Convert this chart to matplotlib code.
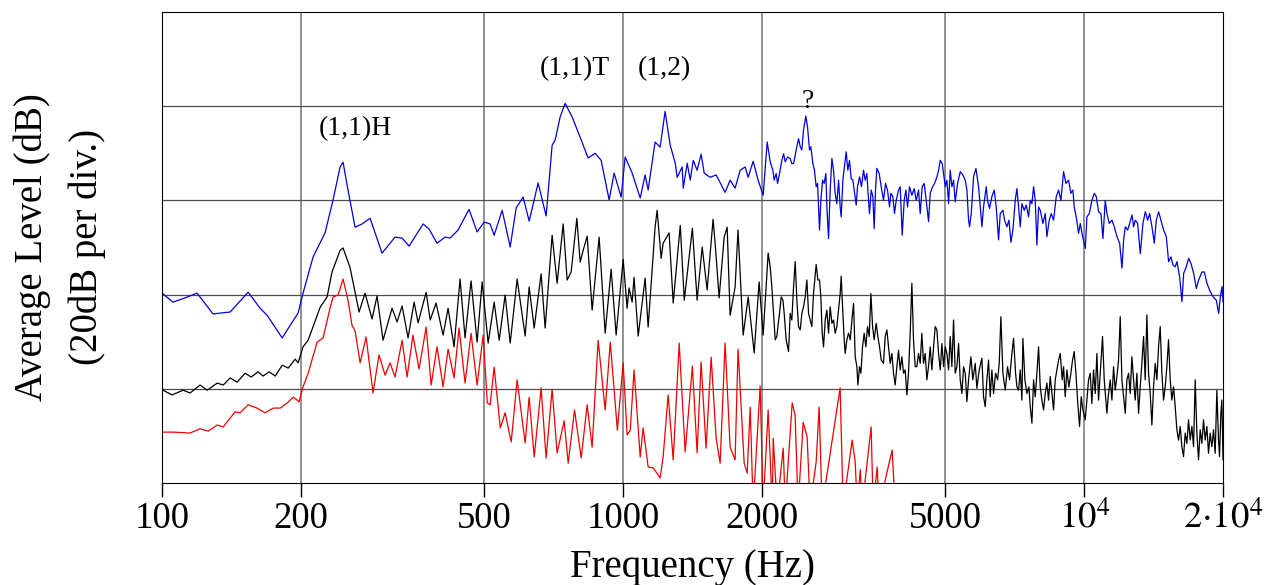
import numpy as np
import matplotlib
matplotlib.use("Agg")
import matplotlib.pyplot as plt

plt.rcParams['font.family'] = ['Liberation Serif', 'DejaVu Serif']
plt.rcParams['mathtext.fontset'] = 'stix'

# (frequency Hz, level dB), 20 dB per division
blue_pts = [
    (100, 40.3), (105.6, 38.4), (112.2, 39.3), (119.1, 40.3), (129.0, 35.9), (140.5, 36.3),
    (153.7, 40.5), (163.2, 37.1), (169.0, 35.6), (182.2, 30.8), (197.3, 36.1), (202.2, 40.3),
    (212.6, 48.0), (225.7, 53.1), (234.9, 60.1), (243.3, 67.1), (246.9, 68.1), (253.1, 62.2),
    (262.2, 54.3), (271.5, 55.0), (282.6, 56.2), (300, 48.8), (320.1, 52.2), (331.6, 52.0),
    (343.4, 50.3), (368.3, 55.0), (379.5, 53.9), (394.8, 50.9), (410.9, 52.2), (421.4, 52.0),
    (438.5, 53.7), (463.2, 58.1), (482.3, 53.3), (499.5, 55.4), (514.7, 55.0), (525.1, 52.6),
    (546.5, 57.9), (568.9, 50.1), (586.1, 58.4), (606.9, 60.7), (625.4, 55.6), (654.0, 63.7),
    (680.7, 56.7), (701.4, 71.7), (712.0, 72.8), (730.0, 77.7), (748.5, 80.6), (775.2, 77.7),
    (806.8, 73.4), (839.6, 69.0), (869.5, 70.0), (896.0, 68.5), (932.4, 60.1), (956.0, 65.8),
    (990.0, 60.7), (1010, 69.2), (1046, 65.8), (1089, 60.5), (1116, 65.4), (1133, 62.2),
    (1173, 72.4), (1203, 71.3), (1233, 78.9), (1265, 71.7), (1297, 67.9), (1310, 64.9),
    (1343, 67.1), (1350, 62.6), (1377, 67.9), (1398, 64.3), (1419, 68.5), (1447, 66.4),
    (1476, 69.8), (1499, 65.8), (1544, 64.9), (1591, 65.4), (1664, 61.7), (1706, 64.3),
    (1749, 62.6), (1794, 66.4), (1839, 67.1), (1867, 64.9), (1914, 68.3), (1962, 64.3),
    (2012, 61.1), (2053, 72.4),
    (2084, 68.2), (2112, 66.4), (2126, 64.3), (2147, 65.7), (2162, 63.6), (2183, 65.7),
    (2209, 68.5), (2228, 69.9), (2246, 68.2), (2273, 69.2), (2303, 68.9), (2322, 67.8),
    (2342, 67.8), (2373, 70.7), (2401, 73.1), (2421, 71.4), (2441, 70.7), (2461, 74.9),
    (2490, 77.9), (2511, 75.6), (2536, 70.7), (2553, 71.4), (2579, 67.8), (2600, 66.4),
    (2622, 62.9), (2640, 63.6), (2666, 53.7), (2684, 60.0), (2707, 64.3), (2729, 63.6),
    (2752, 65.7), (2766, 58.6), (2789, 51.9), (2812, 62.2), (2836, 68.9), (2859, 66.4),
    (2883, 61.5), (2907, 59.3), (2932, 64.3), (2956, 58.6), (2971, 56.5), (2996, 64.3),
    (3026, 67.8), (3046, 70.3), (3071, 66.4), (3097, 68.5), (3123, 64.6), (3149, 64.3),
    (3170, 62.2), (3202, 59.0), (3223, 62.9), (3256, 65.0), (3288, 62.9), (3321, 66.4),
    (3349, 64.3), (3377, 65.7), (3405, 60.0), (3422, 57.2), (3451, 62.2), (3480, 60.8),
    (3503, 54.0), (3526, 62.2), (3550, 66.8), (3592, 65.7), (3628, 62.9), (3670, 60.0),
    (3707, 63.6), (3744, 62.2), (3782, 58.6), (3807, 61.5), (3845, 60.8), (3877, 57.2),
    (3910, 60.0), (3956, 62.2), (3989, 62.9), (4029, 52.6), (4070, 60.0), (4104, 62.2),
    (4138, 58.6), (4179, 62.9), (4228, 61.1), (4278, 62.5), (4321, 60.0), (4372, 62.2),
    (4408, 57.2), (4452, 62.9), (4497, 63.6), (4542, 60.0), (4596, 55.5), (4634, 61.5),
    (4689, 62.9), (4736, 63.6), (4792, 65.0), (4832, 66.4), (4872, 68.5), (4921, 67.8),
    (4954, 65.7), (4996, 62.9), (5037, 64.3), (5079, 59.3),
    (5121, 66.4), (5164, 62.9), (5207, 64.3), (5250, 59.7), (5312, 63.6), (5384, 66.1),
    (5455, 65.4), (5519, 64.3), (5566, 62.2), (5612, 55.8), (5640, 54.4), (5688, 57.2),
    (5754, 65.0), (5822, 66.8), (5900, 62.9), (5950, 58.6), (5999, 54.4), (6048, 58.6),
    (6129, 62.9), (6170, 60.0), (6232, 58.3), (6305, 60.8), (6379, 62.2), (6443, 58.6),
    (6519, 51.6), (6574, 57.2), (6662, 57.9), (6718, 55.8), (6796, 54.4), (6865, 55.8),
    (6934, 51.1), (7003, 53.7), (7085, 60.0), (7144, 62.5), (7204, 58.6), (7264, 54.4),
    (7325, 59.3), (7411, 57.9), (7485, 59.0), (7573, 56.5), (7636, 60.0), (7700, 59.3),
    (7765, 62.9), (7830, 60.0), (7895, 50.5), (7961, 58.6), (8028, 57.9), (8135, 55.1),
    (8230, 57.2), (8299, 52.3), (8396, 55.8), (8481, 57.2), (8580, 55.8), (8695, 60.8),
    (8797, 62.2), (8900, 60.0), (9019, 66.1), (9125, 63.6), (9247, 64.3), (9355, 61.5),
    (9449, 62.2), (9512, 58.6), (9608, 56.5), (9721, 53.0), (9802, 55.1), (9919, 52.3),
    (10051, 49.8), (10135, 56.5), (10254, 57.2), (10391, 60.0), (10513, 61.5), (10619, 60.8),
    (10743, 57.6), (10869, 57.2), (10978, 51.9), (11107, 60.0), (11200, 57.2), (11332, 55.1),
    (11483, 55.8), (11618, 54.4), (11775, 52.3), (11933, 50.9), (12073, 45.6), (12174, 51.6),
    (12276, 54.4), (12420, 53.7), (12544, 55.1), (12691, 56.9), (12797, 54.4), (12904, 55.8),
    (13055, 55.1), (13230, 48.7), (13407, 55.1), (13564, 57.6), (13723, 55.8), (13861, 57.2),
    (14023, 54.4), (14187, 50.9), (14330, 55.8), (14498, 57.6), (14668, 55.8), (14864, 53.7),
    (15064, 52.3), (15240, 47.0), (15419, 48.0), (15573, 46.3), (15756, 45.9), (15888, 47.0),
    (16101, 43.8), (16289, 38.5), (16429, 44.5), (16648, 45.9), (16844, 47.7), (17041, 46.6),
    (17270, 44.5), (17501, 41.3), (17706, 43.1), (18004, 44.8), (18215, 44.8), (18458, 42.4),
    (18706, 40.9), (18925, 39.9), (19147, 39.2), (19339, 38.8), (19566, 36.0), (19729, 39.5),
    (19894, 41.7), (20000, 38.5),
]

black_pts = [
    (100.5, 19.7), (105.1, 18.7), (111.1, 19.7), (115.0, 19.1), (120.9, 20.8), (125.3, 19.7),
    (131.7, 21.2), (135.7, 20.8), (140.5, 22.3), (145.5, 21.4), (151.4, 23.3), (156.0, 22.5),
    (161.5, 23.6), (165.6, 22.7), (170.7, 23.6), (176.0, 22.7), (182.2, 25.0), (187.8, 24.4),
    (194.5, 26.3), (197.3, 25.5), (202.2, 28.9), (207.4, 30.3), (220.2, 37.3), (228.0, 39.5),
    (233.7, 44.8), (243.3, 49.4), (246.9, 49.9), (255.6, 45.8), (267.5, 36.3), (275.6, 40.3),
    (285.4, 34.8), (292.6, 39.7), (301.5, 30.3), (315.4, 37.1), (323.4, 34.2), (331.6, 37.6),
    (341.6, 30.8), (352.1, 38.4), (359.2, 34.0), (373.9, 40.5), (381.5, 34.6), (392.9, 38.2),
    (406.9, 31.4), (417.2, 37.1), (429.8, 28.9), (442.9, 43.3), (454.1, 30.8), (467.9, 42.9),
    (482.3, 29.9), (494.5, 42.7), (509.6, 29.7), (525.1, 38.4), (538.5, 30.3), (554.7, 39.9),
    (568.9, 29.7), (589.0, 43.3), (613.0, 31.2), (625.4, 41.6), (641.3, 32.9), (663.9, 44.4),
    (677.4, 32.9), (701.4, 52.6), (719.2, 42.4), (741.2, 55.0), (756.1, 43.1), (771.3, 44.8),
    (793.5, 56.2), (806.8, 46.9), (819.0, 49.4), (835.6, 52.4), (856.5, 36.7), (887.0, 52.2),
    (914.1, 31.8), (941.8, 45.4), (965.6, 31.4), (1000, 47.5), (1020, 37.1), (1030, 41.4),
    (1046, 38.4), (1056, 43.7), (1078, 31.2), (1116, 43.5), (1133, 33.1), (1173, 54.3),
    (1185, 57.9), (1209, 47.7), (1221, 50.9), (1258, 53.1), (1284, 38.2), (1330, 54.7),
    (1357, 38.8), (1413, 54.1), (1447, 38.8), (1484, 50.1), (1521, 41.0), (1567, 56.0),
    (1583, 50.9), (1615, 39.3), (1656, 52.2), (1681, 54.3), (1706, 35.6), (1749, 41.6),
    (1775, 53.7), (1821, 31.4), (1867, 39.5), (1924, 27.6), (1972, 42.7), (2012, 31.4),
    (2063, 48.8),
    (2084, 45.9), (2101, 41.7), (2119, 36.0), (2137, 30.4), (2154, 31.1), (2183, 36.0),
    (2202, 39.5), (2221, 38.8), (2235, 36.0), (2257, 30.4), (2284, 27.9), (2303, 36.0),
    (2322, 34.6), (2342, 41.7), (2361, 47.0), (2381, 38.8), (2401, 33.2), (2421, 32.5),
    (2441, 36.0), (2461, 37.4), (2482, 39.5), (2503, 43.1), (2524, 36.0), (2545, 34.6),
    (2566, 33.2), (2587, 40.2), (2622, 46.4), (2644, 43.1), (2666, 43.1), (2684, 39.5),
    (2702, 31.8), (2720, 28.9), (2743, 34.6), (2766, 36.7), (2789, 31.8), (2812, 37.4),
    (2836, 33.9), (2859, 34.6), (2883, 31.8), (2907, 33.2), (2932, 36.7), (2956, 40.2),
    (2971, 43.9), (2996, 36.0), (3016, 30.4), (3031, 27.5), (3056, 30.4), (3082, 31.8),
    (3108, 30.4), (3134, 34.6), (3160, 38.1), (3186, 26.8), (3213, 24.7), (3229, 20.8),
    (3256, 24.7), (3278, 23.3), (3305, 28.9), (3332, 31.8), (3360, 28.9), (3388, 33.2),
    (3417, 31.1), (3446, 40.2), (3475, 33.2), (3503, 30.4), (3538, 33.9), (3568, 31.1),
    (3598, 28.9), (3628, 26.1), (3670, 25.4), (3701, 31.1), (3732, 32.5), (3763, 28.9),
    (3794, 25.4), (3826, 27.5), (3858, 23.3), (3890, 20.8), (3923, 24.7), (3956, 28.2),
    (3989, 24.0), (4022, 26.8), (4056, 23.3), (4090, 24.0), (4124, 18.7), (4158, 23.3),
    (4193, 31.8), (4228, 42.4), (4263, 30.4), (4299, 24.7), (4335, 24.7), (4371, 27.5),
    (4408, 25.4), (4444, 31.8), (4482, 25.4), (4519, 27.5), (4557, 21.9), (4595, 24.7),
    (4634, 28.9), (4672, 24.0), (4712, 28.9), (4751, 33.2), (4791, 32.5), (4831, 27.5),
    (4872, 24.0), (4912, 29.6), (4954, 24.7), (4995, 28.9), (5037, 27.5), (5079, 24.0),
    (5121, 31.1), (5164, 24.7), (5207, 34.6), (5250, 23.3), (5294, 24.7), (5339, 29.6),
    (5383, 21.9), (5428, 19.0), (5474, 24.7), (5519, 23.3), (5566, 17.3), (5612, 21.9),
    (5678, 26.8), (5733, 21.9), (5802, 25.4), (5850, 20.1), (5919, 24.0), (5998, 26.5),
    (6048, 18.3), (6099, 16.2), (6150, 21.9), (6201, 26.1), (6253, 18.3), (6305, 24.0),
    (6358, 19.0), (6422, 23.3), (6487, 21.9), (6541, 25.4), (6595, 35.3), (6662, 23.3),
    (6740, 19.7), (6819, 24.7), (6887, 21.9), (6968, 27.5), (7026, 30.7), (7097, 23.3),
    (7144, 20.4), (7204, 19.7), (7264, 24.0), (7325, 17.6), (7361, 30.7), (7435, 21.9),
    (7510, 19.0), (7586, 20.4), (7636, 16.2), (7700, 12.7), (7764, 21.9), (7829, 18.3),
    (7895, 23.3), (7961, 28.9), (8027, 20.4), (8094, 17.6), (8162, 15.5), (8230, 19.0),
    (8299, 21.2), (8368, 17.6), (8438, 22.6), (8509, 19.0), (8580, 15.5), (8651, 21.9),
    (8724, 24.0), (8797, 26.1), (8870, 27.5), (8959, 21.9), (9019, 24.7), (9094, 18.3),
    (9170, 24.0), (9262, 20.4), (9355, 23.3), (9433, 26.1), (9512, 27.9), (9592, 23.3),
    (9672, 17.6), (9769, 12.0), (9851, 18.3), (9933, 15.5), (10049, 13.4), (10133, 17.6),
    (10218, 21.9), (10303, 23.3), (10389, 16.9), (10476, 24.0), (10564, 19.0), (10652, 27.5),
    (10741, 17.6), (10831, 23.3), (10957, 31.1), (11050, 21.9), (11124, 18.3), (11197, 14.8),
    (11291, 19.0), (11385, 21.9), (11481, 17.6), (11577, 24.7), (11673, 19.7), (11771, 22.6),
    (11869, 26.1), (11969, 35.3), (12069, 21.9), (12170, 18.3), (12271, 14.8), (12374, 21.9),
    (12477, 23.3), (12581, 19.0), (12686, 26.8), (12792, 21.9), (12899, 17.6), (13007, 23.3),
    (13116, 14.8), (13225, 20.4), (13336, 25.4), (13447, 31.1), (13559, 21.9), (13673, 35.7),
    (13787, 23.3), (13902, 19.0), (14018, 12.3), (14135, 20.4), (14254, 25.4), (14373, 21.9),
    (14493, 28.9), (14614, 33.2), (14736, 23.3), (14859, 17.6), (14983, 20.4), (15108, 24.7),
    (15234, 30.4), (15362, 21.9), (15490, 17.6), (15620, 20.4), (15750, 16.2), (15882, 11.3),
    (16015, 9.1), (16148, 12.0), (16283, 7.7), (16419, 5.6), (16556, 10.6), (16695, 8.4),
    (16834, 13.4), (16975, 9.1), (17117, 12.0), (17260, 7.7), (17404, 21.9), (17549, 10.6),
    (17696, 4.9), (17844, 11.3), (17993, 8.4), (18143, 13.4), (18295, 9.1), (18448, 12.0),
    (18602, 6.3), (18757, 10.6), (18914, 7.7), (19072, 11.3), (19231, 6.3), (19392, 19.7),
    (19554, 9.1), (19652, 5.6), (19783, 14.8), (19882, 17.6), (20000, 4.9),
]

# red drops below the bottom of the frame above ~1.9 kHz (-5 dB = off scale)
red_pts = [
    (100.5, 10.8), (105.6, 10.8), (115.0, 10.6), (120.9, 11.5), (125.9, 11.0), (131.7, 12.3),
    (135.7, 11.9), (144.0, 15.1), (147.6, 14.9), (153.7, 16.6), (160.7, 15.9), (167.3, 14.9),
    (174.2, 15.9), (180.4, 15.9), (186.9, 17.0), (192.5, 18.2), (196.3, 17.6), (198.2, 17.2),
    (202.2, 20.4), (207.4, 23.3), (216.9, 29.9), (223.5, 30.8), (231.6, 37.3), (234.9, 39.5),
    (240.9, 39.9), (246.9, 43.3), (253.1, 38.8), (258.2, 33.5), (262.2, 32.3), (268.9, 25.5),
    (277.0, 31.0), (286.8, 19.1), (295.5, 27.2), (304.5, 22.9), (312.3, 25.5), (320.1, 22.5),
    (331.6, 30.3), (340.0, 22.5), (350, 31.4), (360.9, 24.2), (373.9, 33.1), (383.4, 20.8),
    (394.8, 28.9), (406.9, 20.4), (417.2, 28.4), (429.8, 22.3), (440.7, 32.9), (454.1, 21.2),
    (467.9, 31.8), (482.3, 20.8), (497.1, 31.4), (507.4, 17.0), (514.7, 16.6), (525.1, 24.6),
    (541.4, 11.7), (554.7, 14.9), (571.8, 8.7), (589.0, 21.9), (613.0, 8.5), (625.4, 18.2),
    (641.3, 5.5), (663.9, 20.2), (680.7, 5.3), (701.4, 19.9), (719.2, 6.4), (744.9, 13.2),
    (760.0, 4.2), (784.5, 15.5), (810.9, 5.3), (835.6, 16.6), (856.5, 7.6), (882.6, 30.3),
    (914.1, 15.5), (937.7, 29.9), (971.6, 11.2), (1000, 25.5), (1020, 10.2), (1036, 11.2),
    (1056, 24.0), (1089, 5.5), (1105, 11.7), (1133, 3.4), (1162, 3.2), (1203, 1.1),
    (1221, 5.5), (1252, 18.7), (1284, 4.9), (1323, 29.7), (1363, 6.6), (1413, 24.8),
    (1447, 6.4), (1476, 25.7), (1513, 7.4), (1552, 26.7), (1591, 9.5), (1623, 4.2),
    (1664, 29.7), (1706, 7.6), (1749, 4.9), (1775, 28.4), (1830, 4.2), (1858, 2.1),
    (1886, 16.1), (1914, -5), (1953, 9.8), (1982, 20.6), (2012, -5), (2063, 15.5),
    (2105, -5), (2116, 9.5), (2158, -5), (2224, 7.4), (2247, -5), (2326, 17.0),
    (2360, 14.4), (2396, -5), (2457, 12.9), (2506, 9.8), (2544, -5), (2622, 4.5),
    (2661, 16.1), (2701, -5), (2955, 20.2), (3000, -5), (3138, 9.1), (3186, 4.5),
    (3218, -5), (3268, 2.8), (3300, -5), (3450, 11.9), (3485, -5), (3555, 3.4),
    (3591, -5), (3832, 7.0), (3890, -5),
]

xt = [100, 200, 500, 1000, 2000, 5000, 10000, 20000]
xl = ['100', '200', '500', '1000', '2000', '5000', r'$10^4$', r'$2{\cdot}10^4$']
grid_db = [20, 40, 60, 80]

fig = plt.figure(figsize=(12.76, 5.85), dpi=100)
ax = fig.add_axes([0.127, 0.1744, 0.8315, 0.8051])

for pts, col in [(blue_pts, '#0000dd'), (black_pts, 'black'), (red_pts, '#ee0000')]:
    f, db = zip(*pts)
    ax.plot(f, db, color=col, lw=0.9)

ax.set_xscale('log')
ax.set_xlim(100, 20000)
ax.set_ylim(0, 100)
ax.set_xticks(xt)
ax.set_xticklabels(xl)
ax.xaxis.set_minor_locator(matplotlib.ticker.NullLocator())
ax.tick_params(axis='x', direction='out', length=10, width=1, labelsize=26.5, pad=3)
ax.set_yticks(grid_db)
ax.tick_params(axis='y', length=0, labelleft=False)

for v in xt[1:-1]:
    ax.axvline(v, color='0.45', lw=1.1, zorder=0)
for v in grid_db:
    ax.axhline(v, color='0.3', lw=0.9, zorder=0)

ax.text(262, 75.3, '(1,1)H', fontsize=20, ha='center', va='center')
ax.text(787, 87.9, '(1,1)T', fontsize=20, ha='center', va='center')
ax.text(1227, 87.9, '(1,2)', fontsize=20, ha='center', va='center')
ax.text(2519, 81.1, '?', fontsize=20, ha='center', va='center')

fig.text(60 / 1276, 1 - 247 / 585, 'Average Level (dB)\n(20dB per div.)',
         rotation=90, ha='center', va='center', fontsize=28,
         multialignment='center', linespacing=1.6)
fig.text(692 / 1276, 1 - 567 / 585, 'Frequency (Hz)', ha='center', va='center',
         fontsize=28)

fig.savefig('out.png', dpi=100)
